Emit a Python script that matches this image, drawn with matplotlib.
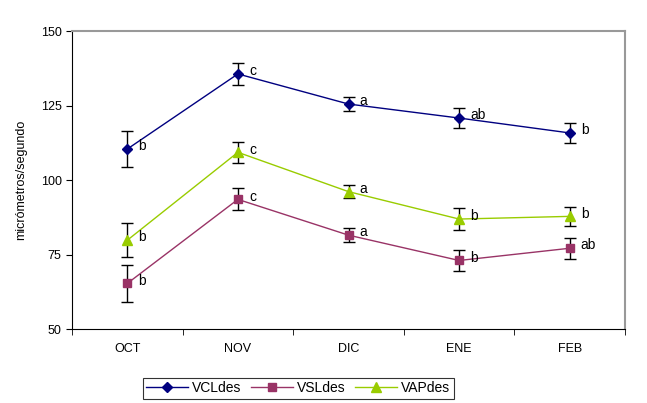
import matplotlib.pyplot as plt
import numpy as np

plt.rcParams['font.family'] = ['Liberation Sans', 'DejaVu Sans']

months = ['OCT', 'NOV', 'DIC', 'ENE', 'FEB']

vcl = [110.4, 135.6, 125.5, 120.8, 115.8]
vcl_err = [6.0, 3.6, 2.2, 3.4, 3.5]
vcl_lbl = ['b', 'c', 'a', 'ab', 'b']

vsl = [65.3, 93.5, 81.5, 73.0, 77.1]
vsl_err = [6.1, 3.7, 2.4, 3.6, 3.6]
vsl_lbl = ['b', 'c', 'a', 'b', 'ab']

vap = [79.8, 109.3, 96.1, 86.9, 87.8]
vap_err = [5.8, 3.6, 2.3, 3.6, 3.3]
vap_lbl = ['b', 'c', 'a', 'b', 'b']

fig = plt.figure(figsize=(6.47, 4.03), dpi=100)
ax = fig.add_axes([0.1113, 0.1836, 0.8547, 0.7394])

x = np.arange(len(months))
series = [
    ('VCLdes', vcl, vcl_err, vcl_lbl, '#000080', 'D', 5),
    ('VSLdes', vsl, vsl_err, vsl_lbl, '#993366', 's', 5.5),
    ('VAPdes', vap, vap_err, vap_lbl, '#99CC00', '^', 6.5),
]
for name, vals, err, lbls, col, mk, ms in series:
    ax.errorbar(x, vals, yerr=err, fmt='none', ecolor='black', elinewidth=1,
                capsize=4, capthick=1, zorder=2)
    ax.plot(x, vals, color=col, marker=mk, markersize=ms, linewidth=1,
            label=name, zorder=3)
    for xi, v, t in zip(x, vals, lbls):
        ax.annotate(t, (xi, v), xytext=(8, 2), textcoords='offset points',
                    ha='left', va='center', fontsize=10)

ax.set_xlim(-0.5, 4.5)
ax.set_ylim(50, 150)
ax.set_yticks([50, 75, 100, 125, 150])
ax.set_xticks(x)
ax.set_xticklabels(months)
ax.set_xticks(np.arange(-0.5, 5, 1), minor=True)
ax.tick_params(axis='x', which='major', length=0, pad=10, labelsize=9)
ax.tick_params(axis='x', which='minor', length=4, direction='out')
ax.tick_params(axis='y', length=4, direction='out', labelsize=9)
ax.set_ylabel('micrómetros/segundo', fontsize=9, labelpad=10)

for s in ['top', 'right']:
    ax.spines[s].set_color('#999999')
    ax.spines[s].set_linewidth(1.5)
for s in ['left', 'bottom']:
    ax.spines[s].set_color('black')

leg = ax.legend(loc='upper center', bbox_to_anchor=(0.409, -0.14), ncol=3,
                frameon=True, fancybox=False, fontsize=10, handlelength=3.0,
                columnspacing=0.7, handletextpad=0.3, borderpad=0.25)
leg.get_frame().set_edgecolor('black')
leg.get_frame().set_linewidth(0.8)

fig.savefig('out.png', dpi=100)
